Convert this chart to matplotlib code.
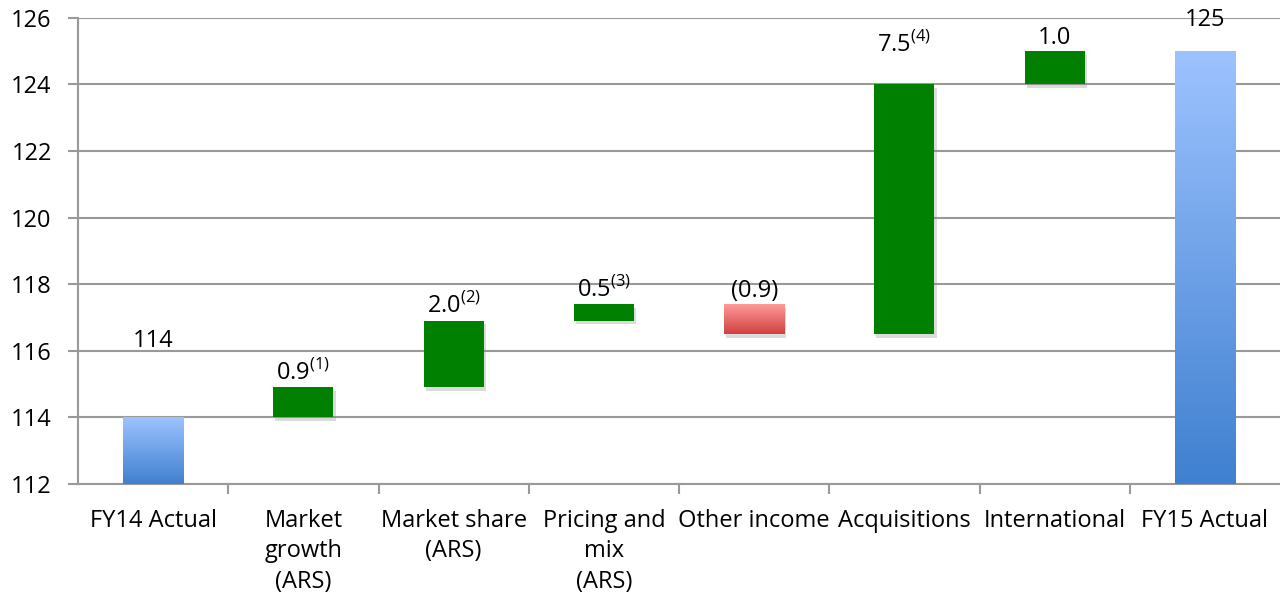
import matplotlib
matplotlib.use("Agg")
import matplotlib.pyplot as plt
import matplotlib.patheffects as pe
from matplotlib.colors import LinearSegmentedColormap
import numpy as np

plt.rcParams['font.family'] = ['Open Sans', 'DejaVu Sans']
plt.rcParams['mathtext.fontset'] = 'custom'
plt.rcParams['mathtext.rm'] = 'Open Sans'

categories = ["FY14 Actual", "Market\ngrowth\n(ARS)", "Market share\n(ARS)",
              "Pricing and\nmix\n(ARS)", "Other income", "Acquisitions",
              "International", "FY15 Actual"]
start_value = 114
changes = [0.9, 2.0, 0.5, -0.9, 7.5, 1.0]
change_labels = ["0.9", "2.0", "0.5", "(0.9)", "7.5", "1.0"]
notes = ["(1)", "(2)", "(3)", "", "(4)", ""]
end_value = 125

# extra lift of some labels (points), Excel placed them a bit oddly
label_lift = {0: 45, 5: 18, 7: 13}

GRID = "#999999"
GREEN = "#008000"
FS = 17
blue_cmap = LinearSegmentedColormap.from_list("b", ["#3F80D0", "#9DC3FF"])
red_cmap = LinearSegmentedColormap.from_list("r", ["#D04040", "#FF9A9A"])

fig = plt.figure(figsize=(12.8, 5.98), dpi=100)
ax = fig.add_axes([0.061, 0.191, 0.939, 0.779])
ax.set_xlim(-0.5, len(categories) - 0.5)
ax.set_ylim(112, 126)
ymin = 112
width = 0.4


def gradient_bar(x, lo, hi, cmap):
    rect = ax.bar(x, hi - lo, bottom=lo, width=width, color="none",
                  edgecolor="none", zorder=3)[0]
    grad = np.linspace(0, 1, 256).reshape(-1, 1)
    im = ax.imshow(grad, cmap=cmap, origin="lower", aspect="auto",
                   extent=(x - width / 2, x + width / 2, lo, hi), zorder=3)
    im.set_clip_path(rect)
    return rect


def put_label(x, y, text, note, lift=0):
    s = text if not note else r"$\mathrm{%s}^{\mathrm{%s}}$" % (text, note)
    ax.annotate(s, (x, y), xytext=(0, 1 + lift), textcoords="offset points",
                ha="center", va="bottom", fontsize=FS, color="black", zorder=5)


shadow_fx = pe.SimplePatchShadow(offset=(1.5, -2.5), shadow_rgbFace="#888888", alpha=0.3)

# start bar
gradient_bar(0, ymin, start_value, blue_cmap)
put_label(0, start_value, str(start_value), "", label_lift.get(0, 0))

level = start_value
for i, (c, lab, note) in enumerate(zip(changes, change_labels, notes)):
    x = i + 1
    lo, hi = min(level, level + c), max(level, level + c)
    if c >= 0:
        b = ax.bar(x, hi - lo, bottom=lo, width=width, color=GREEN, zorder=3)[0]
        b.set_path_effects([shadow_fx, pe.Normal()])
    else:
        sh = ax.bar(x, hi - lo, bottom=lo, width=width, color="none", zorder=2)[0]
        sh.set_path_effects([shadow_fx])
        gradient_bar(x, lo, hi, red_cmap)
    put_label(x, hi, lab, note, label_lift.get(x, 0))
    level += c

# end bar
last = len(categories) - 1
gradient_bar(last, ymin, end_value, blue_cmap)
put_label(last, end_value, str(end_value), "", label_lift.get(last, 0))

ax.set_yticks(range(112, 127, 2))
ax.yaxis.grid(True, color=GRID, linewidth=1.5, zorder=0)
ax.set_axisbelow(True)
ax.set_xticks(range(len(categories)))
ax.set_xticklabels(categories, fontsize=FS, linespacing=1.36)
ax.set_xticks(np.arange(0.5, len(categories) - 0.5, 1), minor=True)
ax.tick_params(axis="x", which="major", length=0, pad=18)
ax.tick_params(axis="x", which="minor", length=7, width=1.5, color=GRID)
ax.tick_params(axis="y", length=7, width=1.5, color=GRID, labelsize=FS, pad=12)
for side in ["top", "right"]:
    ax.spines[side].set_visible(False)
for side in ["left", "bottom"]:
    ax.spines[side].set_color(GRID)
    ax.spines[side].set_linewidth(1.5)

fig.savefig("out.png", dpi=100)
